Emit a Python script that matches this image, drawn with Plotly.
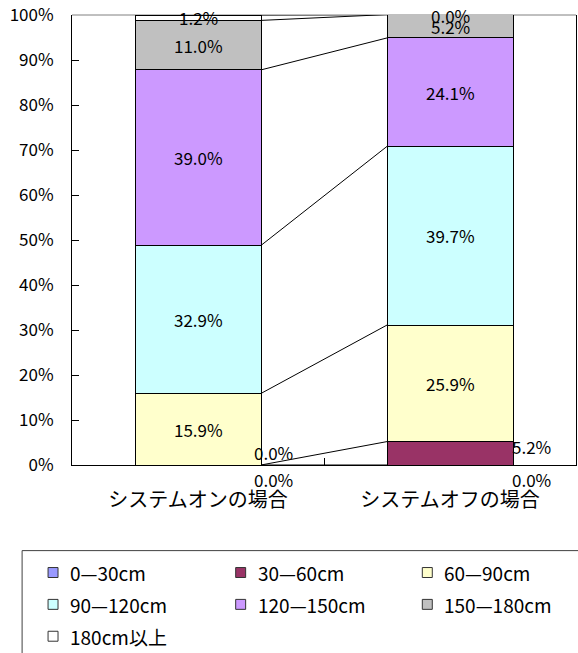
import plotly.graph_objects as go

# ---- data -------------------------------------------------------------
categories = ["システムオンの場合", "システムオフの場合"]
series_names = ["0—30cm", "30—60cm", "60—90cm", "90—120cm",
                "120—150cm", "150—180cm", "180cm以上"]
system_on = [0.0, 0.0, 15.9, 32.9, 39.0, 11.0, 1.2]
system_off = [0.0, 5.2, 25.9, 39.7, 24.1, 5.2, 0.0]
y_tick_values = [0, 10, 20, 30, 40, 50, 60, 70, 80, 90, 100]
y_tick_labels = [f"{v}%" for v in y_tick_values]

# ---- styling ----------------------------------------------------------
colors = ["#9999FF", "#993366", "#FFFFCC", "#CCFFFF", "#CC99FF", "#C0C0C0", "#FFFFFF"]
FONT = "Noto Sans CJK JP"
W, H = 578, 653
PL, PR, PT, PB = 72, 577, 13, 465          # plot-area edges in pixels
BAR_W = 0.5
Y_MAX = 100

# label nudges (pixels) for segments too thin to hold their label
label_shift = {
    (0, 0): (75, -14),
    (0, 1): (75, 13),
    (1, 0): (81, -14),
    (1, 1): (81, 7),
}


def px_x(px):
    return (px - PL) / (PR - PL)


def px_y(py):
    return (PB - py) / (PB - PT)


values = [system_on, system_off]
xpos = list(range(len(categories)))

fig = go.Figure()

for i, name in enumerate(series_names):
    fig.add_trace(go.Bar(
        x=xpos, y=[v[i] for v in values], name=name, width=BAR_W,
        marker=dict(color=colors[i], line=dict(color="#000000", width=1)),
        showlegend=False,
    ))

# series lines joining the stacked segment tops of neighbouring bars
cum = []
for v in values:
    c, run = [], 0.0
    for x in v:
        run += x
        c.append(run)
    cum.append(c)

for i in range(len(series_names)):
    fig.add_trace(go.Scatter(
        x=[xpos[0] + BAR_W / 2, xpos[1] - BAR_W / 2],
        y=[cum[0][i], cum[1][i]],
        mode="lines", line=dict(color="#000000", width=1),
        showlegend=False, hoverinfo="skip",
    ))

# value labels (kept inside the axis range so rounding overshoot stays visible)
annotations = []
for ci, v in enumerate(values):
    for si, val in enumerate(v):
        mid = min(cum[ci][si] - val / 2, Y_MAX)
        dx, dy = label_shift.get((ci, si), (0, 0))
        annotations.append(dict(
            x=xpos[ci], y=mid, xref="x", yref="y", text=f"{val:.1f}%",
            showarrow=False, xshift=dx, yshift=dy,
            font=dict(family=FONT, size=17, color="#000000"),
        ))

shapes = [
    # top border of the plot area
    dict(type="line", xref="paper", yref="paper", x0=0, x1=1, y0=1, y1=1,
         line=dict(color="#808080", width=1), layer="below"),
    # legend frame
    dict(type="rect", xref="paper", yref="paper",
         x0=px_x(22), x1=px_x(600), y0=px_y(551), y1=px_y(670),
         line=dict(color="#404040", width=1), fillcolor="rgba(0,0,0,0)"),
]

# legend: three columns
col_x = [48, 236, 423]
row_y = [573, 605, 637]
for i, name in enumerate(series_names):
    cx = col_x[i % 3]
    cy = row_y[i // 3]
    shapes.append(dict(
        type="rect", xref="paper", yref="paper",
        x0=px_x(cx), x1=px_x(cx + 10), y0=px_y(cy - 5), y1=px_y(cy + 5),
        fillcolor=colors[i], line=dict(color="#333333", width=1),
    ))
    annotations.append(dict(
        x=px_x(cx + 20), y=px_y(cy), xref="paper", yref="paper",
        text=name, showarrow=False, xanchor="left", yanchor="middle",
        font=dict(family=FONT, size=19, color="#000000"),
    ))

fig.update_layout(
    width=W, height=H,
    margin=dict(l=PL, r=W - PR, t=PT, b=H - PB),
    barmode="stack",
    paper_bgcolor="#FFFFFF", plot_bgcolor="#FFFFFF",
    font=dict(family=FONT, color="#000000"),
    showlegend=False,
    annotations=annotations,
    shapes=shapes,
    xaxis=dict(
        range=[-0.5, 1.5], tickmode="array", tickvals=xpos, ticktext=categories,
        ticks="", showgrid=False, zeroline=False,
        showline=True, linecolor="#000000", linewidth=1,
        tickfont=dict(family=FONT, size=20, color="#000000"),
        ticklabelstandoff=17,
        minor=dict(tickmode="array", tickvals=[0.5], ticks="inside",
                   ticklen=7, tickcolor="#000000", showgrid=False),
    ),
    yaxis=dict(
        range=[0, Y_MAX], tickmode="array", tickvals=y_tick_values,
        ticktext=y_tick_labels, ticks="inside", ticklen=7, tickcolor="#000000",
        showgrid=False, zeroline=False,
        showline=True, linecolor="#000000", linewidth=1, mirror=True,
        tickfont=dict(family=FONT, size=17, color="#000000"),
        ticklabelstandoff=14, ticklabeloverflow="allow",
    ),
)

fig.write_html("out.html")
